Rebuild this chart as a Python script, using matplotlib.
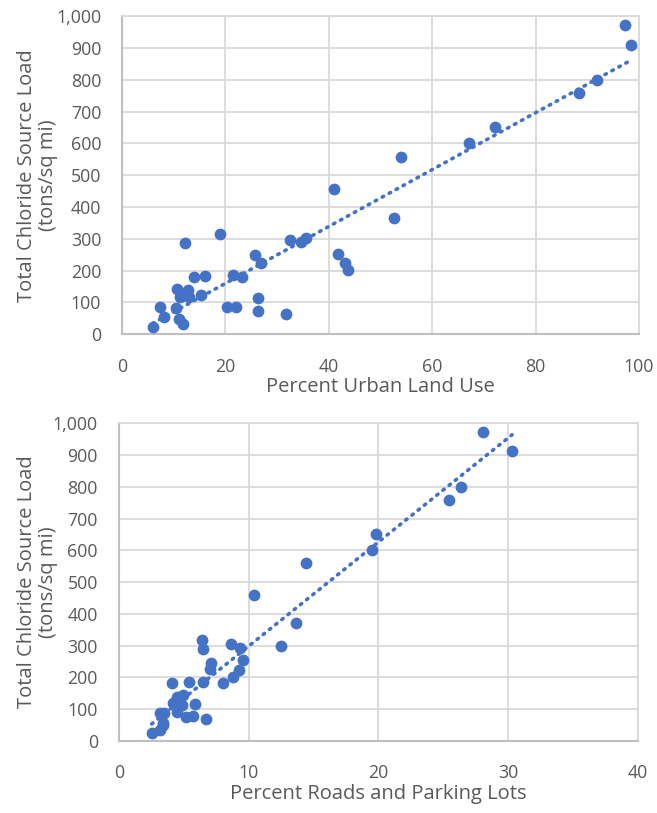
import matplotlib.pyplot as plt
import numpy as np

plt.rcParams['font.family'] = ['Open Sans', 'DejaVu Sans']

# percent urban land use vs. total chloride source load
urban_pct = [97.3, 98.5, 91.9, 88.3, 72.1, 67.2, 53.9, 41.0, 52.6, 19.0,
             35.5, 32.4, 34.7, 12.25, 41.7, 25.7, 26.9, 43.2, 43.8, 21.5,
             16.0, 14.0, 23.2, 10.7, 12.8, 11.7, 15.2, 13.0, 11.3, 26.3,
             20.4, 22.1, 7.3, 10.45, 26.3, 31.7, 8.1, 11.1, 11.75, 5.9]
urban_load = [973, 909, 798, 759, 650, 600, 558, 457, 366, 314,
              302, 296, 289, 287, 252, 248, 224, 223, 202, 186,
              184, 180, 179, 143, 139, 123, 122, 118, 118, 113,
              86, 86, 85, 84, 73, 65, 53, 47, 32, 23]

# percent roads and parking lots vs. total chloride source load
roads_pct = [28.04, 30.3, 26.35, 25.45, 19.8, 19.5, 14.4, 10.42, 13.66, 6.39,
             8.63, 12.5, 9.35, 6.52, 9.6, 7.11, 7.03, 9.27, 8.78, 6.52,
             5.42, 4.1, 8.01, 4.98, 4.47, 4.21, 5.88, 4.85, 4.6, 4.47,
             3.18, 3.5, 5.18, 5.75, 6.7, 3.44, 3.4, 3.18, 2.54]
roads_load = [973, 912, 798, 760, 651, 601, 561, 459, 370, 317,
              305, 299, 291, 288, 254, 246, 225, 223, 202, 186,
              186, 183, 181, 144, 139, 120, 116, 112, 124, 91,
              86, 86, 74, 78, 67, 49, 57, 34, 23]

blue = '#4472C4'
grid_c = '#D9D9D9'
text_c = '#595959'

fig = plt.figure(figsize=(6.57, 8.13), dpi=100)
ax1 = fig.add_axes([0.1857, 0.5888, 0.7869, 0.3915])
ax2 = fig.add_axes([0.1807, 0.0889, 0.7904, 0.3904])


def draw(ax, x, y, xmax, xstep, xlabel, label_x):
    x = np.array(x)
    y = np.array(y)
    ax.scatter(x, y, s=72, color=blue, zorder=3, linewidths=0)
    # linear trendline over the range of the data
    m, b = np.polyfit(x, y, 1)
    xs = np.array([x.min(), x.max()])
    ax.plot(xs, m * xs + b, color=blue, lw=2.6, ls=(0, (0.45, 1.75)),
            dash_capstyle='round', zorder=2)
    ax.set_xlim(0, xmax)
    ax.set_ylim(0, 1000)
    ax.set_xticks(np.arange(0, xmax + 1, xstep))
    ax.set_yticks(np.arange(0, 1001, 100))
    ax.set_yticklabels([f'{v:,}' for v in range(0, 1001, 100)])
    ax.grid(color=grid_c, lw=1.3, zorder=0)
    ax.set_axisbelow(True)
    for s in ['top', 'right']:
        ax.spines[s].set_color(grid_c)
        ax.spines[s].set_linewidth(1.3)
    for s in ['left', 'bottom']:
        ax.spines[s].set_color('#BFBFBF')
        ax.spines[s].set_linewidth(1.5)
    ax.tick_params(length=0, labelsize=12.8, colors=text_c)
    ax.tick_params(axis='y', pad=15)
    ax.tick_params(axis='x', pad=17)
    ax.set_xlabel(xlabel, fontsize=14.5, color=text_c, labelpad=1)
    ax.set_ylabel('Total Chloride Source Load\n(tons/sq mi)', fontsize=14.5,
                  color=text_c, linespacing=1.05)
    ax.yaxis.set_label_coords(label_x, 0.5)


draw(ax1, urban_pct, urban_load, 100, 20, 'Percent Urban Land Use', -0.124)
draw(ax2, roads_pct, roads_load, 40, 10, 'Percent Roads and Parking Lots', -0.117)

fig.savefig('out.png', dpi=100)
